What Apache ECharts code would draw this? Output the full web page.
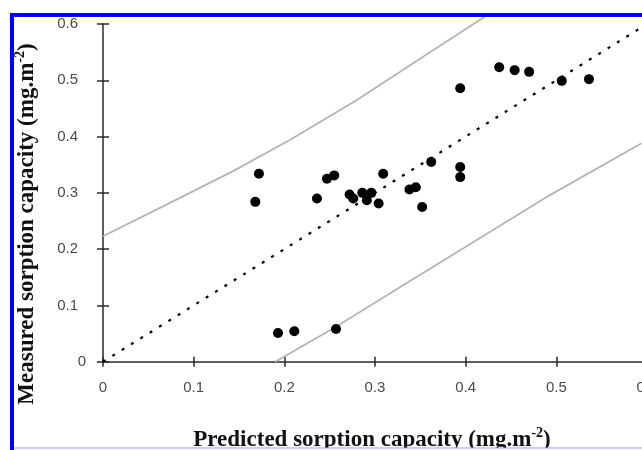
<!DOCTYPE html>
<html>
<head>
<meta charset="utf-8">
<script src="https://cdn.jsdelivr.net/npm/echarts@6/dist/echarts.min.js"></script>
<style>
html,body{margin:0;padding:0;background:#fff;overflow:hidden;width:642px;height:450px;}
#chart{width:700px;height:450px;}
</style>
</head>
<body>
<div id="chart"></div>
<script>
// Measured vs predicted sorption capacity (mg.m-2)
const predicted = [0.172,0.168,0.236,0.247,0.255,0.272,0.276,0.286,0.296,0.291,0.304,0.309,0.338,0.345,0.352,0.362,0.394,0.394,0.394,0.437,0.454,0.470,0.506,0.536,0.193,0.211,0.257];
const measured  = [0.334,0.284,0.290,0.325,0.331,0.297,0.290,0.300,0.300,0.287,0.281,0.334,0.306,0.310,0.275,0.355,0.486,0.346,0.328,0.523,0.518,0.515,0.499,0.502,0.051,0.054,0.058];
// 1:1 line
const identityX = [0, 0.6];
const identityY = [0, 0.6];
// upper and lower prediction bands (grey curves)
const upperX = [0, 0.070, 0.144, 0.206, 0.280, 0.353, 0.421];
const upperY = [0.223, 0.279, 0.339, 0.394, 0.465, 0.542, 0.613];
const lowerX = [0.190, 0.258, 0.331, 0.493, 0.594];
const lowerY = [0, 0.063, 0.136, 0.296, 0.388];
// tick labels
const xTickLabels = ['0','0.1','0.2','0.3','0.4','0.5','0.6'];
const yTickLabels = ['0','0.1','0.2','0.3','0.4','0.5','0.6'];

const zip = (a, b) => a.map((v, i) => [v, b[i]]);
const axisColor = '#2a2a2a';
const labelStyle = {color: '#4a4a4a', fontFamily: 'Liberation Sans, Arial, sans-serif', fontSize: 15};
const serif = 'Liberation Serif, Times New Roman, serif';

const chart = echarts.init(document.getElementById('chart'), null, {renderer: 'canvas'});
const baseX = {type: 'value', min: 0, max: 0.6, interval: 0.1, position: 'bottom', splitLine: {show: false}};
const baseY = {type: 'value', min: 0, max: 0.6, interval: 0.1, position: 'left', splitLine: {show: false}};

chart.setOption({
  animation: false,
  backgroundColor: '#fff',
  grid: {left: 103, right: 53, top: 24, bottom: 88.3, containLabel: false},
  xAxis: [
    Object.assign({}, baseX, {
      axisLine: {show: true, onZero: false, lineStyle: {color: axisColor, width: 1.5}},
      axisTick: {show: true, inside: false, length: 5, lineStyle: {color: axisColor, width: 1.5}},
      axisLabel: Object.assign({margin: 19, formatter: (v, i) => xTickLabels[i]}, labelStyle)
    }),
    Object.assign({}, baseX, {
      axisLine: {show: false},
      axisTick: {show: true, inside: true, length: 5, lineStyle: {color: axisColor, width: 1.5}},
      axisLabel: {show: false}
    })
  ],
  yAxis: [
    Object.assign({}, baseY, {
      axisLine: {show: true, onZero: false, lineStyle: {color: axisColor, width: 1.5}},
      axisTick: {show: true, inside: false, length: 6, lineStyle: {color: axisColor, width: 1.5}},
      axisLabel: Object.assign({margin: 25, formatter: (v, i) => i === 0 ? '' : yTickLabels[i]}, labelStyle)
    }),
    Object.assign({}, baseY, {
      axisLine: {show: false},
      axisTick: {show: true, inside: true, length: 6, lineStyle: {color: axisColor, width: 1.5}},
      axisLabel: Object.assign({margin: 17, formatter: (v, i) => i === 0 ? yTickLabels[0] : ''}, labelStyle)
    })
  ],
  series: [
    {
      type: 'line', data: zip(upperX, upperY), smooth: false, clip: false, symbol: 'none',
      lineStyle: {color: '#b4b4b4', width: 1.8}, silent: true, z: 2
    },
    {
      type: 'line', data: zip(lowerX, lowerY), smooth: false, clip: false, symbol: 'none',
      lineStyle: {color: '#b4b4b4', width: 1.8}, silent: true, z: 2
    },
    {
      type: 'line', data: zip(identityX, identityY), clip: false, symbol: 'none',
      lineStyle: {color: '#000', width: 2.2, type: [3, 8]}, silent: true, z: 3
    },
    {
      type: 'scatter', data: zip(predicted, measured), symbol: 'circle', symbolSize: 10,
      itemStyle: {color: '#000', opacity: 1}, z: 4
    }
  ],
  graphic: [
    {type: 'text', x: 372, y: 440.5, z: 10,
     style: {text: '{m|Predicted sorption capacity (mg.m}{s|-2}{m|)}', align: 'center', verticalAlign: 'middle',
       rich: {m: {fontFamily: serif, fontWeight: 'bold', fontSize: 23, fill: '#111', lineHeight: 28},
              s: {fontFamily: serif, fontWeight: 'bold', fontSize: 14, fill: '#111', verticalAlign: 'top', lineHeight: 28}}}},
    {type: 'text', x: 27.5, y: 224, rotation: Math.PI / 2, z: 10,
     style: {text: '{m|Measured sorption capacity (mg.m}{s|-2}{m|)}', align: 'center', verticalAlign: 'middle',
       rich: {m: {fontFamily: serif, fontWeight: 'bold', fontSize: 23, fill: '#111', lineHeight: 28},
              s: {fontFamily: serif, fontWeight: 'bold', fontSize: 14, fill: '#111', verticalAlign: 'top', lineHeight: 28}}}},
    // frame
    {type: 'rect', z: 20, shape: {x: 0, y: 0, width: 700, height: 13}, style: {fill: '#fff'}, silent: true},
    {type: 'rect', z: 20, shape: {x: 0, y: 0, width: 10, height: 450}, style: {fill: '#fff'}, silent: true},
    {type: 'rect', z: 21, shape: {x: 10, y: 13, width: 690, height: 4}, style: {fill: '#0000ff'}, silent: true},
    {type: 'rect', z: 21, shape: {x: 10, y: 13, width: 4, height: 437}, style: {fill: '#0000ff'}, silent: true},
    {type: 'rect', z: 20, shape: {x: 14, y: 448, width: 690, height: 2}, style: {fill: '#fff'}, silent: true},
    {type: 'rect', z: 21, shape: {x: 14, y: 447.5, width: 690, height: 1}, style: {fill: '#9a9af0'}, silent: true}
  ]
});
</script>
</body>
</html>
